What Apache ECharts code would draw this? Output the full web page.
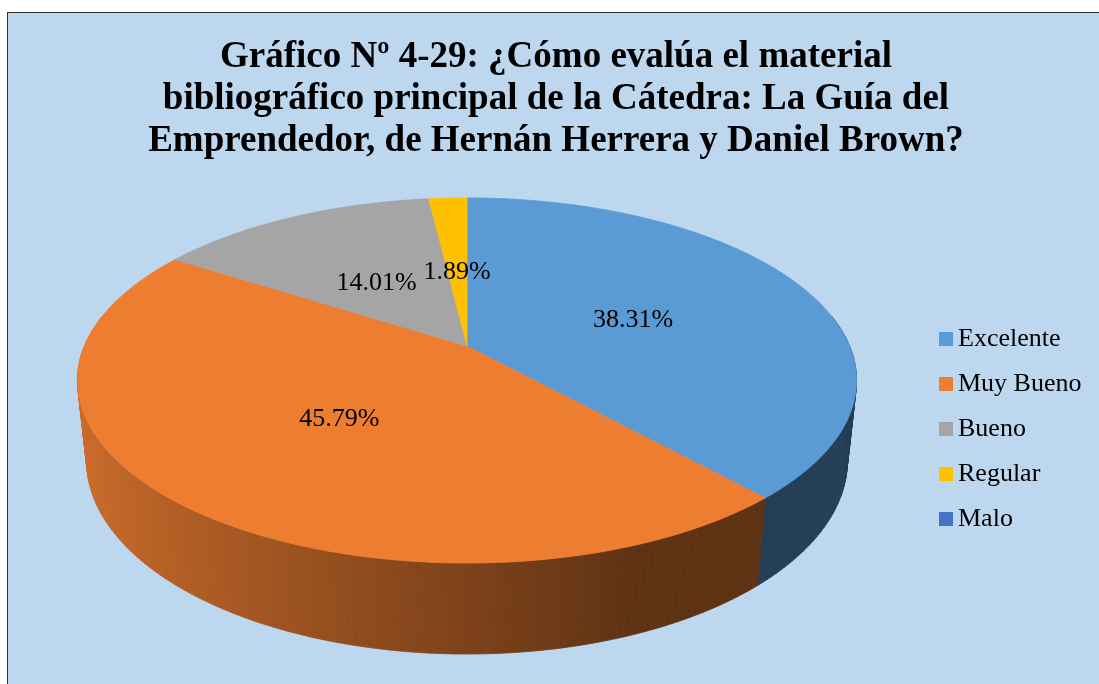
<!DOCTYPE html>
<html>
<head>
<meta charset="utf-8">
<script src="https://cdn.jsdelivr.net/npm/echarts@6/dist/echarts.min.js"></script>
<style>
html,body{margin:0;padding:0;width:1099px;height:684px;overflow:hidden;background:#ffffff;}
#frame{position:absolute;left:7px;top:12px;width:1200px;height:800px;background:#BDD7EE;border:1px solid #333333;box-sizing:border-box;}
#chart{position:absolute;left:0;top:0;width:1099px;height:684px;}
</style>
</head>
<body>
<div id="frame"></div>
<div id="chart"></div>
<script>
// ---- data ----
const categories = ['Excelente', 'Muy Bueno', 'Bueno', 'Regular', 'Malo'];
const percentages = [38.31, 45.79, 14.01, 1.89, 0];
const colors = ['#5B9BD5', '#ED7D31', '#A5A5A5', '#FFC000', '#4472C4'];
const titleText = 'Gráfico Nº 4-29: ¿Cómo evalúa el material\nbibliográfico principal de la Cátedra: La Guía del\nEmprendedor, de Hernán Herrera y Daniel Brown?';

// ---- 3D pie projection (perspective view of a flat cylinder) ----
const VIEW = { cx: 467, cy: 346, F: 1798, W0: 4.70, phi: 27.4 * Math.PI / 180, depth: 0.2385 };
function proj(r, theta, h) {
  const X = r * Math.sin(theta), Z = -r * Math.cos(theta);
  const d = h * VIEW.depth;
  const sp = Math.sin(VIEW.phi), cp = Math.cos(VIEW.phi);
  const w = VIEW.W0 + d * sp - Z * cp;
  const v = -d * cp - Z * sp;
  return [VIEW.cx + VIEW.F * X / w, VIEW.cy - VIEW.F * v / w];
}
const total = percentages.reduce((a, b) => a + b, 0);
const startAngles = [];
(function () { let acc = 0; percentages.forEach(v => { startAngles.push(acc / total * Math.PI * 2); acc += v; }); })();

function shade(hex, f) {
  const n = parseInt(hex.slice(1), 16);
  const r = Math.round(((n >> 16) & 255) * f), g = Math.round(((n >> 8) & 255) * f), b = Math.round((n & 255) * f);
  return 'rgb(' + r + ',' + g + ',' + b + ')';
}
function wallFactor(t) { return Math.max(0.40, 0.527 - 0.345 * Math.sin(t)); }

const FONT = '"Liberation Serif", "Times New Roman", serif';

function renderWalls(params, api) {
  const quads = [];
  const lo = 80 * Math.PI / 180, hi = 280 * Math.PI / 180;
  const step = 1 * Math.PI / 180;
  for (let i = 0; i < categories.length; i++) {
    const v = api.value(i);
    if (!v) continue;
    const a0 = Math.max(startAngles[i], lo);
    const a1 = Math.min(startAngles[i] + v / total * Math.PI * 2, hi);
    if (a1 <= a0) continue;
    const n = Math.max(1, Math.ceil((a1 - a0) / step));
    for (let k = 0; k < n; k++) {
      const s = a0 + (a1 - a0) * k / n, e = a0 + (a1 - a0) * (k + 1) / n;
      const mid = (s + e) / 2;
      const col = shade(colors[i], wallFactor(mid));
      quads.push({
        depth: Math.cos(mid),
        el: {
          type: 'polygon',
          shape: { points: [proj(1, s, 0), proj(1, e, 0), proj(1, e, 1), proj(1, s, 1)] },
          style: { fill: col, stroke: col, lineWidth: 0.8 }
        }
      });
    }
  }
  quads.sort((a, b) => b.depth - a.depth);
  return { type: 'group', children: quads.map(q => q.el) };
}

function makeTopRenderer(i) {
  return function (params, api) {
    const v = api.value(0);
    if (!v) return { type: 'group', children: [] };
    const a0 = startAngles[i];
    const a1 = a0 + v / total * Math.PI * 2;
    const pts = [proj(0, 0, 0)];
    const n = Math.max(2, Math.ceil((a1 - a0) / (0.5 * Math.PI / 180)));
    for (let k = 0; k <= n; k++) pts.push(proj(1, a0 + (a1 - a0) * k / n, 0));
    const mid = (a0 + a1) / 2;
    const lp = proj(0.48, mid, 0);
    return {
      type: 'group',
      children: [
        { type: 'polygon', shape: { points: pts }, style: { fill: colors[i], stroke: colors[i], lineWidth: 0.8 } },
        { type: 'text', x: lp[0], y: lp[1] + 4, z2: 20,
          style: { text: v.toFixed(2) + '%', fill: '#000000', font: '26px ' + FONT, align: 'center', verticalAlign: 'middle' } }
      ]
    };
  };
}

const series = [{
  type: 'custom',
  name: 'walls',
  coordinateSystem: 'none',
  z: 2,
  silent: true,
  data: [percentages],
  renderItem: renderWalls
}];
categories.forEach((c, i) => {
  series.push({
    type: 'custom',
    name: c,
    coordinateSystem: 'none',
    z: 3,
    itemStyle: { color: colors[i] },
    data: [[percentages[i]]],
    renderItem: makeTopRenderer(i)
  });
});

const chart = echarts.init(document.getElementById('chart'), null, { renderer: 'canvas' });
chart.setOption({
  animation: false,
  backgroundColor: 'transparent',
  color: colors,
  title: {
    text: titleText,
    left: 556,
    top: 36,
    padding: 0,
    textAlign: 'center',
    textStyle: { fontFamily: FONT, fontSize: 37, fontWeight: 'bold', lineHeight: 42, color: '#000000' }
  },
  legend: {
    data: categories,
    orient: 'vertical',
    left: 939,
    top: 326,
    padding: 0,
    icon: 'rect',
    itemWidth: 14,
    itemHeight: 14,
    itemGap: 19,
    textStyle: { fontFamily: FONT, fontSize: 26, lineHeight: 26, color: '#000000' }
  },
  series: series
});
</script>
</body>
</html>
